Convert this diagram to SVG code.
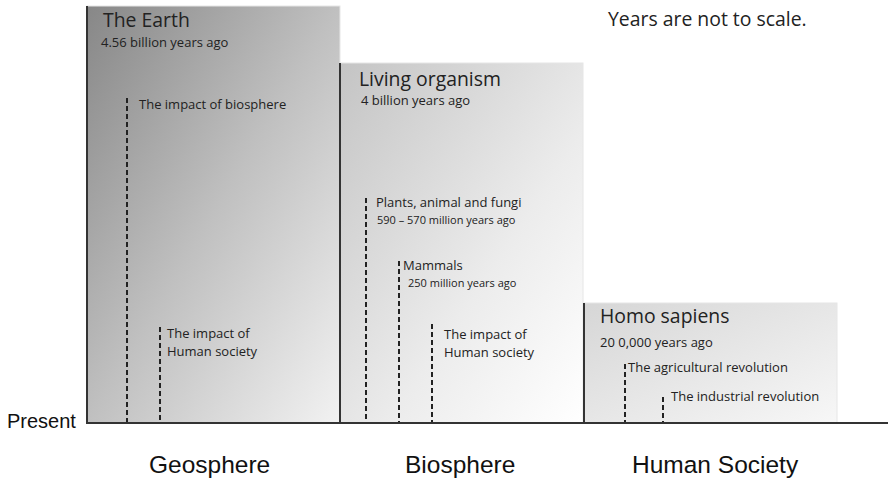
<svg xmlns="http://www.w3.org/2000/svg" width="888" height="482" viewBox="0 0 888 482">
<defs>
<linearGradient id="gEarth" x1="0" y1="0" x2="1" y2="1">
<stop offset="0" stop-color="#878787"/>
<stop offset="0.5" stop-color="#c0c0c0"/>
<stop offset="1" stop-color="#f2f2f2"/>
</linearGradient>
<linearGradient id="gLiving" x1="0" y1="0" x2="1" y2="1">
<stop offset="0" stop-color="#c4c4c4"/>
<stop offset="0.6" stop-color="#ececec"/>
<stop offset="1" stop-color="#ffffff"/>
</linearGradient>
<linearGradient id="gHomo" x1="0" y1="0" x2="1" y2="1">
<stop offset="0" stop-color="#d6d6d6"/>
<stop offset="1" stop-color="#f7f7f7"/>
</linearGradient>
<style>
.box{stroke:#e6e6e6;stroke-width:1}
.edge{stroke:#333;stroke-width:2;fill:none}
.dash{stroke:#222;stroke-width:2;stroke-dasharray:5 3;fill:none}
.t{font-family:"Open Sans","Liberation Sans",sans-serif;fill:#222}
.title{font-size:19.4px}
.sub{font-size:13px}
.small{font-size:11px}
.a{font-family:"Liberation Sans",Arial,sans-serif;fill:#111}
</style>
</defs>
<rect width="888" height="482" fill="#ffffff"/>

<g id="earth">
<rect class="box" x="87" y="6" width="253" height="417" fill="url(#gEarth)"/>
<line class="edge" x1="87" y1="6" x2="87" y2="423"/>
<text class="t title" x="103" y="27">The Earth</text>
<text class="t sub" x="101" y="47">4.56 billion years ago</text>
<text class="t sub" x="139" y="109">The impact of biosphere</text>
<text class="t sub" x="167" y="338">The impact of</text>
<text class="t sub" x="167" y="356">Human society</text>
</g>

<g id="living">
<rect class="box" x="340" y="63" width="243" height="360" fill="url(#gLiving)"/>
<line class="edge" x1="340" y1="63" x2="340" y2="423"/>
<text class="t title" x="359" y="86">Living organism</text>
<text class="t sub" x="361" y="105">4 billion years ago</text>
<text class="t sub" x="376" y="207">Plants, animal and fungi</text>
<text class="t small" x="377" y="224">590 – 570 million years ago</text>
<text class="t sub" x="403" y="270">Mammals</text>
<text class="t small" x="408" y="287">250 million years ago</text>
<text class="t sub" x="444" y="339">The impact of</text>
<text class="t sub" x="444" y="357">Human society</text>
</g>

<g id="homo">
<rect class="box" x="584" y="303" width="253" height="120" fill="url(#gHomo)"/>
<line class="edge" x1="584" y1="303" x2="584" y2="423"/>
<text class="t title" x="600" y="323">Homo sapiens</text>
<text class="t sub" x="600" y="347">20 0,000 years ago</text>
<text class="t sub" x="628" y="372">The agricultural revolution</text>
<text class="t sub" x="671" y="401">The industrial revolution</text>
</g>

<g id="connectors">
<line class="dash" x1="127" y1="98" x2="127" y2="423"/>
<line class="dash" x1="160" y1="327" x2="160" y2="423"/>
<line class="dash" x1="366" y1="198" x2="366" y2="423"/>
<line class="dash" x1="399" y1="261" x2="399" y2="423"/>
<line class="dash" x1="432" y1="324" x2="432" y2="423"/>
<line class="dash" x1="625" y1="364" x2="625" y2="423"/>
<line class="dash" x1="663" y1="397" x2="663" y2="423"/>
</g>

<g id="axis">
<line class="edge" x1="86" y1="423" x2="888" y2="423"/>
<text class="a" x="7" y="428" font-size="20">Present</text>
</g>

<g id="labels">
<text class="a" x="149" y="473" font-size="24.5">Geosphere</text>
<text class="a" x="405" y="473" font-size="24.5">Biosphere</text>
<text class="a" x="632" y="473" font-size="24.5">Human Society</text>
<text class="t" x="608" y="26" font-size="19.4">Years are not to scale.</text>
</g>
</svg>
